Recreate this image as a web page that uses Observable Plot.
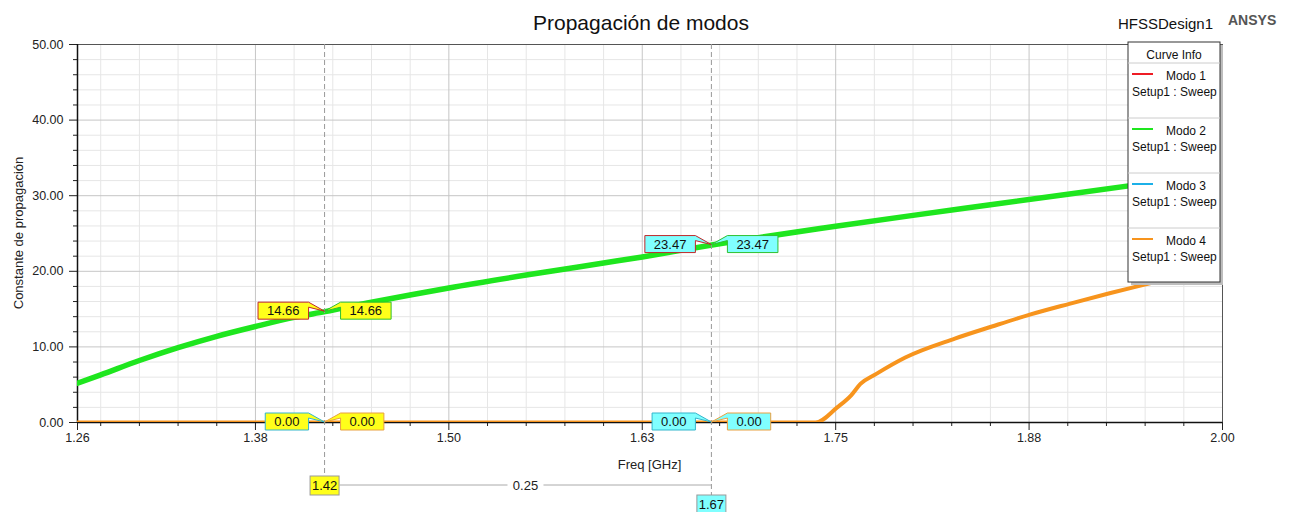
<!DOCTYPE html>
<html>
<head>
<meta charset="utf-8">
<script src="https://cdn.jsdelivr.net/npm/d3@7"></script>
<script src="https://cdn.jsdelivr.net/npm/@observablehq/plot@0.6"></script>
<style>
  body { margin: 0; background: #fff; font-family: "Liberation Sans", Arial, sans-serif; }
  #chart svg { display: block; }
</style>
</head>
<body>
<div id="chart"></div>
<script>
// ---------------- data ----------------
const freqModo2 = [1.26, 1.275, 1.30, 1.325, 1.35, 1.375, 1.40, 1.42, 1.45, 1.50, 1.55, 1.60, 1.625, 1.67, 1.70, 1.75, 1.80, 1.85, 1.90, 1.95, 2.00];
const valModo2  = [5.2, 6.3, 8.2, 9.9, 11.4, 12.7, 13.9, 14.66, 15.9, 17.8, 19.5, 21.1, 21.9, 23.47, 24.45, 25.95, 27.4, 28.8, 30.2, 31.6, 33.0];
// Modo 1 coincides with Modo 2 (hidden beneath it)
const freqModo1 = [1.26, 1.275, 1.30, 1.325, 1.35, 1.375, 1.40, 1.42, 1.45, 1.50, 1.55, 1.60, 1.625, 1.67, 1.70, 1.75, 1.80, 1.85, 1.90, 1.95, 2.00];
const valModo1  = [5.2, 6.3, 8.2, 9.9, 11.4, 12.7, 13.9, 14.66, 15.9, 17.8, 19.5, 21.1, 21.9, 23.47, 24.45, 25.95, 27.4, 28.8, 30.2, 31.6, 33.0];
const freqModo4 = [1.26, 1.737, 1.751, 1.760, 1.766, 1.776, 1.795, 1.827, 1.851, 1.876, 1.901, 1.927, 1.953, 1.975, 2.00];
const valModo4  = [0, 0, 2.0, 3.6, 5.1, 6.4, 8.6, 11.1, 12.7, 14.3, 15.7, 17.1, 18.4, 19.5, 20.5];
// Modo 3 coincides with Modo 4 (hidden beneath it)
const freqModo3 = [1.26, 1.737, 1.751, 1.760, 1.766, 1.776, 1.795, 1.827, 1.851, 1.876, 1.901, 1.927, 1.953, 1.975, 2.00];
const valModo3  = [0, 0, 2.0, 3.6, 5.1, 6.4, 8.6, 11.1, 12.7, 14.3, 15.7, 17.1, 18.4, 19.5, 20.5];

const modeNames = ["Modo 1", "Modo 2", "Modo 3", "Modo 4"];
const sweepName = "Setup1 : Sweep";

// markers
const markerFreqs  = [1.42, 1.67];
const markerLabels = ["1.42", "1.67"];
const markerModo1 = [14.66, 23.47];
const markerModo2 = [14.66, 23.47];
const markerModo3 = [0.00, 0.00];
const markerModo4 = [0.00, 0.00];
const deltaLabel = "0.25";

// axes
const xMajorTicks  = [1.26, 1.375, 1.5, 1.625, 1.75, 1.875, 2.0];
const xTickLabels  = ["1.26", "1.38", "1.50", "1.63", "1.75", "1.88", "2.00"];
const xMinorTicks  = [1.275, 1.30, 1.325, 1.35, 1.40, 1.425, 1.45, 1.475, 1.525, 1.55, 1.575, 1.60, 1.65, 1.675, 1.70, 1.725, 1.775, 1.80, 1.825, 1.85, 1.90, 1.925, 1.95, 1.975];
const yMajorTicks  = [0, 10, 20, 30, 40, 50];
const yMinorTicks  = [2, 4, 6, 8, 12, 14, 16, 18, 22, 24, 26, 28, 32, 34, 36, 38, 42, 44, 46, 48];

const titleText = "Propagación de modos";
const xLabel = "Freq [GHz]";
const yLabel = "Constante de propagación";

// ---------------- styles ----------------
const colors = { "Modo 1": "#ee1c25", "Modo 2": "#1ee61e", "Modo 3": "#1cb0e8", "Modo 4": "#f7941d" };
const calloutBorder = { "Modo 1": "#c0282a", "Modo 2": "#2ec02e", "Modo 3": "#33b5cc", "Modo 4": "#e8a040" };
const markerFill = ["#ffff1a", "#80ffff"];
const FONT = "'Liberation Sans', Arial, sans-serif";

const toRows = (name, fs, vs) => fs.map((f, i) => ({ mode: name, f, v: vs[i] }));
const rows1 = toRows("Modo 1", freqModo1, valModo1);
const rows2 = toRows("Modo 2", freqModo2, valModo2);
const rows3 = toRows("Modo 3", freqModo3, valModo3);
const rows4 = toRows("Modo 4", freqModo4, valModo4);

const chart = Plot.plot({
  width: 1293,
  height: 512,
  marginLeft: 77,
  marginRight: 71,
  marginTop: 44,
  marginBottom: 90,
  style: { fontFamily: FONT, fontSize: "12px", color: "#222", background: "#fff" },
  x: { domain: [1.26, 2.0] },
  y: { domain: [0, 50] },
  marks: [
    Plot.gridX(xMinorTicks, { stroke: "#e6e6e6", strokeOpacity: 1 }),
    Plot.gridY(yMinorTicks, { stroke: "#e6e6e6", strokeOpacity: 1 }),
    Plot.gridX(xMajorTicks.slice(1), { stroke: "#c6c6c6", strokeOpacity: 1 }),
    Plot.gridY(yMajorTicks.slice(1), { stroke: "#c6c6c6", strokeOpacity: 1 }),
    Plot.frame({ stroke: "#555" }),
    Plot.axisX(xMinorTicks, { tickSize: 4, tickFormat: () => "", stroke: "#222", label: null }),
    Plot.axisX(xMajorTicks, { tickSize: 8, tickPadding: 3, fontSize: 12.5, stroke: "#222", fill: "#222",
      tickFormat: d => xTickLabels[xMajorTicks.indexOf(d)], label: null }),
    Plot.axisY(yMinorTicks, { tickSize: 4, tickFormat: () => "", stroke: "#222", label: null }),
    Plot.axisY(yMajorTicks, { tickSize: 8, tickPadding: 6, fontSize: 12.5, stroke: "#222", fill: "#222",
      tickFormat: d => d.toFixed(2), label: null }),
    Plot.ruleX([1.26], { stroke: "#111", strokeWidth: 1.5 }),
    Plot.ruleY([0], { stroke: "#111", strokeWidth: 1.5 }),
    Plot.line(rows1, { x: "f", y: "v", stroke: colors["Modo 1"], strokeWidth: 2.5, clip: true, curve: "monotone-x" }),
    Plot.line(rows2, { x: "f", y: "v", stroke: colors["Modo 2"], strokeWidth: 5.5, clip: true, curve: "monotone-x" }),
    Plot.line(rows3, { x: "f", y: "v", stroke: colors["Modo 3"], strokeWidth: 2, clip: true, curve: "monotone-x" }),
    Plot.line(rows4, { x: "f", y: "v", stroke: colors["Modo 4"], strokeWidth: 4, clip: true, curve: "monotone-x" })
  ]
});
document.getElementById("chart").appendChild(chart);

// ---------------- annotations via the plot's scales ----------------
const xs = chart.scale("x"), ys = chart.scale("y");
const X = v => xs.apply(v), Y = v => ys.apply(v);
const svg = d3.select(chart);
const plotTop = Y(50), plotBottom = Y(0), plotLeft = X(1.26), plotRight = X(2.0);
const g = svg.append("g").attr("font-family", FONT).attr("text-anchor", "start");

// title & headers
g.append("text").attr("x", 641).attr("y", 30).attr("text-anchor", "middle")
  .attr("font-size", 21).attr("fill", "#111").text(titleText);
g.append("text").attr("x", 1118).attr("y", 29).attr("font-size", 15).attr("fill", "#111").text("HFSSDesign1");
g.append("text").attr("x", 1228).attr("y", 25).attr("font-size", 14).attr("font-weight", "bold").attr("fill", "#555").text("ANSYS");

// axis labels
g.append("text").attr("x", (plotLeft + plotRight) / 2).attr("y", plotBottom + 47)
  .attr("text-anchor", "middle").attr("font-size", 13).attr("fill", "#222").text(xLabel);
g.append("text").attr("transform", `translate(22.5,${(plotTop + plotBottom) / 2}) rotate(-90)`)
  .attr("text-anchor", "middle").attr("font-size", 13).attr("fill", "#222").text(yLabel);

// marker vertical dashed lines + x labels
const markerBoxTop = [plotBottom + 54, plotBottom + 73];
markerFreqs.forEach((f, i) => {
  g.append("line").attr("x1", X(f)).attr("x2", X(f)).attr("y1", plotTop).attr("y2", markerBoxTop[i])
    .attr("stroke", "#999").attr("stroke-dasharray", "5,3").attr("stroke-width", 1);
});
// delta line
const deltaY = plotBottom + 63;
const box1Right = X(markerFreqs[0]) + 15;
g.append("line").attr("x1", box1Right).attr("x2", X(markerFreqs[1])).attr("y1", deltaY).attr("y2", deltaY)
  .attr("stroke", "#aaa").attr("stroke-width", 1);
const dx = (box1Right + X(markerFreqs[1])) / 2;
g.append("rect").attr("x", dx - 18).attr("y", deltaY - 8).attr("width", 36).attr("height", 16).attr("fill", "#fff");
g.append("text").attr("x", dx).attr("y", deltaY + 5).attr("text-anchor", "middle").attr("font-size", 13)
  .attr("fill", "#222").text(deltaLabel);

markerFreqs.forEach((f, i) => {
  const cx = X(f);
  g.append("rect").attr("x", cx - 14.5).attr("y", markerBoxTop[i]).attr("width", 29).attr("height", 19)
    .attr("fill", markerFill[i]).attr("stroke", "#999");
  g.append("text").attr("x", cx).attr("y", markerBoxTop[i] + 14).attr("text-anchor", "middle")
    .attr("font-size", 13).attr("fill", "#111").text(markerLabels[i]);
});

// callouts
function callout(tx, ty, label, side, fill, stroke) {
  const t = g.append("text").attr("font-size", 13).attr("fill", "#111").text(label);
  const tw = t.node().getComputedTextLength();
  const w = tw + 18, h = 17, gap = 16;
  const top = ty - 9, bot = top + h;
  let d, x0, x1;
  if (side === "left") {
    x1 = tx - gap; x0 = x1 - w;
    d = `M${x0},${top}H${x1}L${tx},${ty}L${x1},${top + 5}V${bot}H${x0}Z`;
  } else {
    x0 = tx + gap; x1 = x0 + w;
    d = `M${x1},${top}H${x0}L${tx},${ty}L${x0},${top + 5}V${bot}H${x1}Z`;
  }
  g.insert("path", () => t.node()).attr("d", d).attr("fill", fill).attr("stroke", stroke).attr("stroke-width", 1);
  t.attr("x", (x0 + x1) / 2).attr("y", top + 13).attr("text-anchor", "middle");
}
const markerSets = [
  ["Modo 1", markerModo1, "left"],
  ["Modo 2", markerModo2, "right"],
  ["Modo 3", markerModo3, "left"],
  ["Modo 4", markerModo4, "right"]
];
markerFreqs.forEach((f, i) => {
  markerSets.forEach(([name, vals, side]) => {
    callout(X(f), Y(vals[i]), vals[i].toFixed(2), side, markerFill[i], calloutBorder[name]);
  });
});

// legend box (Curve Info)
const lg = g.append("g");
const LX = 1128, LY = 42, LW = 92, LH = 240, entryH = 55;
lg.append("rect").attr("x", LX + 3).attr("y", LY + 3).attr("width", LW).attr("height", LH).attr("fill", "#bdbdbd");
lg.append("rect").attr("x", LX).attr("y", LY).attr("width", LW).attr("height", LH).attr("fill", "#fff").attr("stroke", "#333");
lg.append("text").attr("x", LX + LW / 2).attr("y", LY + 17).attr("text-anchor", "middle").attr("font-size", 12).attr("fill", "#111").text("Curve Info");
modeNames.forEach((name, i) => {
  const top = LY + 21 + i * entryH;
  lg.append("line").attr("x1", LX).attr("x2", LX + LW).attr("y1", top).attr("y2", top).attr("stroke", "#ccc");
  lg.append("line").attr("x1", LX + 4).attr("x2", LX + 25).attr("y1", top + 11).attr("y2", top + 11)
    .attr("stroke", colors[name]).attr("stroke-width", 2);
  lg.append("text").attr("x", LX + 38).attr("y", top + 17).attr("font-size", 12).attr("fill", "#111").text(name);
  lg.append("text").attr("x", LX + 4).attr("y", top + 33).attr("font-size", 12).attr("fill", "#111").text(sweepName);
});
</script>
</body>
</html>
